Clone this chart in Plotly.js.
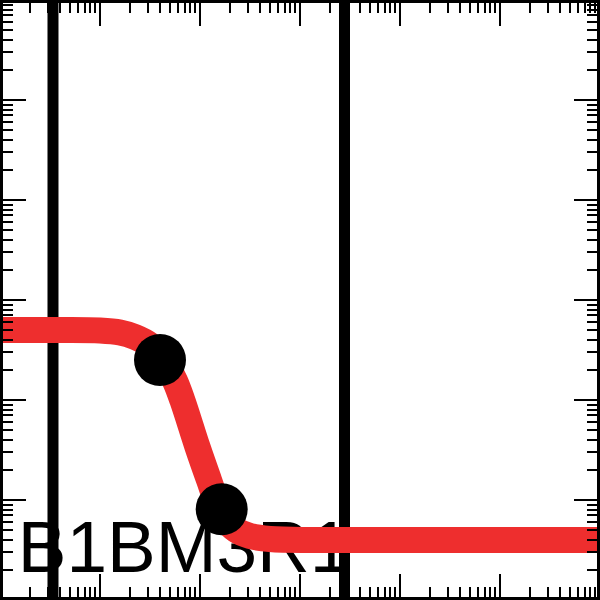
<!DOCTYPE html>
<html>
<head>
<meta charset="utf-8">
<script src="https://cdn.plot.ly/plotly-3.0.1.min.js"></script>
<style>
  html, body { margin: 0; padding: 0; background: #ffffff; }
  #chart { width: 600px; height: 600px; }
</style>
</head>
<body>
<div id="chart"></div>
<script>
// Fitted curve
const curveX = [1, 3.981, 10, 15.85, 22.39, 31.62, 39.81, 47.86, 56.23, 66.5, 94.4, 123.0, 151.4, 182.0, 229.1, 316.2, 501.2, 1585, 1000000];
const curveY = [501.2, 501.2, 495.5, 473.2, 426.6, 354.8, 275.4, 208.9, 154.9, 100, 33.88, 15.85, 8.913, 6.310, 5.012, 4.365, 4.074, 3.981, 3.981];

// Measured points
const pointX = [39.81, 164.8];
const pointY = [251.2, 8.07];

// Vertical reference lines
const refLinesX = [3.388, 2786];

// Label
const labelText = 'B1BM3R1';
const labelX = [1.503];
const labelY = [1.259];

const xRange = [0, 6];  // log10 units
const yRange = [0, 6];

const traces = [
  {
    x: labelX, y: labelY, text: [labelText],
    mode: 'text', type: 'scatter',
    textposition: 'top right',
    textfont: { family: 'Liberation Sans, Arial, sans-serif', size: 73, color: '#000000' },
    hoverinfo: 'skip', showlegend: false
  },
  {
    x: curveX, y: curveY,
    mode: 'lines', type: 'scatter',
    line: { color: '#ee2e2e', width: 26, shape: 'spline', smoothing: 1 },
    showlegend: false
  },
  {
    x: pointX, y: pointY,
    mode: 'markers', type: 'scatter',
    marker: { color: '#000000', size: 52 },
    showlegend: false
  }
];

const shapes = refLinesX.map(v => ({
  type: 'line', xref: 'x', yref: 'paper',
  x0: v, x1: v, y0: 0, y1: 1,
  line: { color: '#000000', width: 11 },
  layer: 'below'
}));
shapes.push({
  type: 'rect', xref: 'paper', yref: 'paper',
  x0: 0, x1: 1, y0: 0, y1: 1,
  line: { color: '#000000', width: 6 },
  layer: 'above'
});

const axisCommon = {
  type: 'log',
  showgrid: false, zeroline: false, showline: false,
  showticklabels: false,
  ticks: 'inside', ticklen: 26, tickwidth: 2, tickcolor: '#000000',
  dtick: 1,
  mirror: 'ticks',
  minor: { ticks: 'inside', ticklen: 13, tickwidth: 2, tickcolor: '#000000', dtick: 'D1', showgrid: false }
};

const layout = {
  width: 600, height: 600,
  margin: { l: 0, r: 0, t: 0, b: 0, pad: 0 },
  paper_bgcolor: '#ffffff', plot_bgcolor: '#ffffff',
  xaxis: Object.assign({}, axisCommon, { range: xRange }),
  yaxis: Object.assign({}, axisCommon, { range: yRange }),
  shapes: shapes,
  showlegend: false
};

Plotly.newPlot('chart', traces, layout, { staticPlot: true, displayModeBar: false });
</script>
</body>
</html>
